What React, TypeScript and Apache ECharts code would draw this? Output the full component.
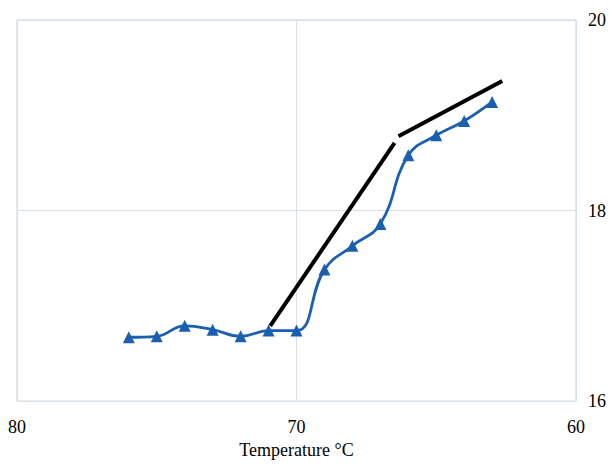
import React, { useEffect, useRef } from "react";
import * as echarts from "echarts";

const temperatures = [76, 75, 74, 73, 72, 71, 70, 69, 68, 67, 66, 65, 64, 63];
const values = [16.67, 16.68, 16.79, 16.75, 16.68, 16.74, 16.74, 17.38, 17.63, 17.86, 18.58, 18.79, 18.94, 19.14];
const tangent1X = [70.94, 66.49];
const tangent1Y = [16.79, 18.71];
const tangent2X = [66.35, 62.64];
const tangent2Y = [18.78, 19.36];
const xTicks = [60, 70, 80];
const yTicks = [16, 18, 20];

export default function App() {
  const ref = useRef<HTMLDivElement>(null);
  useEffect(() => {
    if (!ref.current) return;
    const chart = echarts.init(ref.current, undefined, { renderer: "svg" });
    const font = "'Liberation Serif', 'Times New Roman', serif";
    chart.setOption({
      animation: false,
      backgroundColor: "#ffffff",
      grid: {
        left: 17,
        right: 32,
        top: 20,
        bottom: 55,
        show: true,
        borderColor: "#cfd4da",
        borderWidth: 1,
      },
      xAxis: {
        type: "value",
        inverse: true,
        min: xTicks[0],
        max: xTicks[xTicks.length - 1],
        interval: 10,
        name: "Temperature °C",
        nameLocation: "middle",
        nameGap: 38,
        nameTextStyle: { fontFamily: font, fontSize: 18, color: "#000" },
        axisLine: { show: false },
        axisTick: { show: false },
        axisLabel: { fontFamily: font, fontSize: 18, color: "#000", margin: 17 },
        splitLine: { show: true, lineStyle: { color: "#d9e1e8", width: 1 } },
      },
      yAxis: {
        type: "value",
        position: "right",
        min: yTicks[0],
        max: yTicks[yTicks.length - 1],
        interval: 2,
        axisLine: { show: false },
        axisTick: { show: false },
        axisLabel: { fontFamily: font, fontSize: 18, color: "#000", margin: 12 },
        splitLine: { show: true, lineStyle: { color: "#d9e1e8", width: 1 } },
      },
      series: [
        {
          type: "line",
          data: tangent1X.map((x, i) => [x, tangent1Y[i]]),
          showSymbol: false,
          symbol: "none",
          lineStyle: { color: "#000000", width: 4 },
          z: 3,
        },
        {
          type: "line",
          data: tangent2X.map((x, i) => [x, tangent2Y[i]]),
          showSymbol: false,
          symbol: "none",
          lineStyle: { color: "#000000", width: 4 },
          z: 3,
        },
        {
          type: "line",
          data: temperatures.map((t, i) => [t, values[i]]),
          smooth: 0.45,
          symbol: "triangle",
          symbolSize: 12,
          itemStyle: { color: "#1a5fb0" },
          lineStyle: { color: "#1a5fb0", width: 2.8 },
          z: 4,
        },
      ],
    });
    return () => chart.dispose();
  }, []);
  return <div ref={ref} style={{ width: 609, height: 464, position: "absolute", left: 0, top: 0 }} />;
}
